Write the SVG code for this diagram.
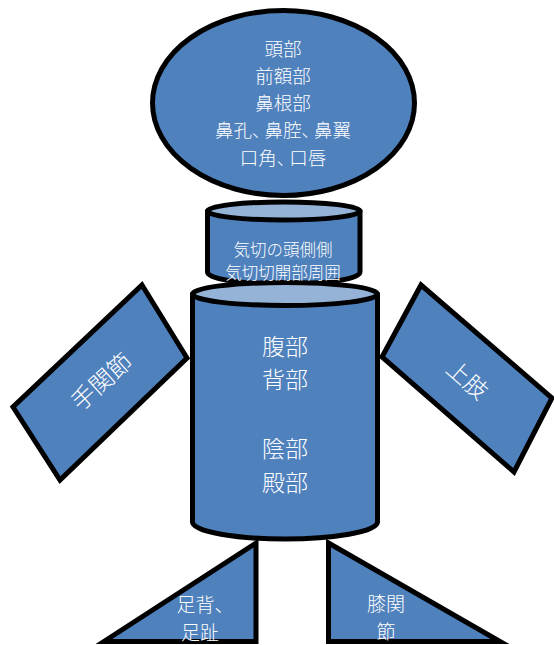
<svg xmlns="http://www.w3.org/2000/svg" width="554" height="645" viewBox="0 0 554 645">
  <style>
    .shape { fill: #4f81bd; stroke: #000; stroke-width: 5; stroke-linejoin: round; }
    .sharp { stroke-linejoin: miter; stroke-miterlimit: 6; }
    .lid { fill: #95b3d7; stroke: #000; stroke-width: 5; }
    text { fill: #fff; font-family: "Noto Sans CJK JP", "Noto Sans", sans-serif; font-weight: 300; text-anchor: middle; }
    .narrow { font-feature-settings: "palt"; letter-spacing: 3.3px; }
    .head { font-size: 18.5px; }
    .neck { font-size: 16.5px; }
    .body { font-size: 23px; }
    .wrist { font-size: 24px; }
    .arm { font-size: 23px; }
    .foot { font-size: 19px; }
  </style>
  <rect width="554" height="645" fill="#fff"/>

  <g id="left-foot">
    <polygon class="shape sharp" points="256,543 104,641.5 256,641.5"/>
    <text class="foot" x="205" y="612">足背、</text>
    <text class="foot" x="200" y="640">足趾</text>
  </g>

  <g id="right-foot">
    <polygon class="shape sharp" points="328.5,543 500,641.5 328.5,641.5"/>
    <text class="foot" x="386" y="611">膝関</text>
    <text class="foot" x="386" y="639">節</text>
  </g>

  <g id="head">
    <ellipse class="shape" cx="283.5" cy="103" rx="131" ry="92.5"/>
    <text class="head" x="283" y="56">頭部</text>
    <text class="head" x="283" y="83">前額部</text>
    <text class="head" x="283" y="110">鼻根部</text>
    <text class="head" x="283" y="137">鼻孔<tspan class="narrow">、</tspan>鼻腔<tspan class="narrow">、</tspan>鼻翼</text>
    <text class="head" x="283" y="165">口角<tspan class="narrow">、</tspan>口唇</text>
  </g>

  <g id="neck">
    <path class="shape" d="M207.5 211 V272 C207.5 279 240 284 284 284 C328 284 360 279 360 272 V211 Z"/>
    <ellipse class="lid" cx="283.75" cy="211" rx="76.25" ry="9"/>
  </g>

  <g id="torso">
    <path class="shape" d="M192.5 294 V522 C192.5 532 238 539 285 539 C332 539 377.5 532 377.5 522 V294 Z"/>
    <ellipse class="lid" cx="285" cy="294" rx="92.5" ry="11.5"/>
    <text class="body" x="285" y="355">腹部</text>
    <text class="body" x="285" y="388">背部</text>
    <text class="body" x="285" y="457">陰部</text>
    <text class="body" x="285" y="491">殿部</text>
  </g>

  <g id="neck-label">
    <text class="neck" x="283" y="256">気切の頭側側</text>
    <text class="neck" x="283" y="279">気切切開部周囲</text>
  </g>

  <g id="left-arm">
    <polygon class="shape sharp" points="142,285 187,358 60,480 13,407"/>
    <text class="wrist" transform="translate(102 382) rotate(-42)" y="8">手関節</text>
  </g>

  <g id="right-arm">
    <polygon class="shape sharp" points="421,285 552,398 514,472 382,357"/>
    <text class="arm" transform="translate(467 380) rotate(41)" y="8">上肢</text>
  </g>

  <g id="connectors"/>
</svg>
